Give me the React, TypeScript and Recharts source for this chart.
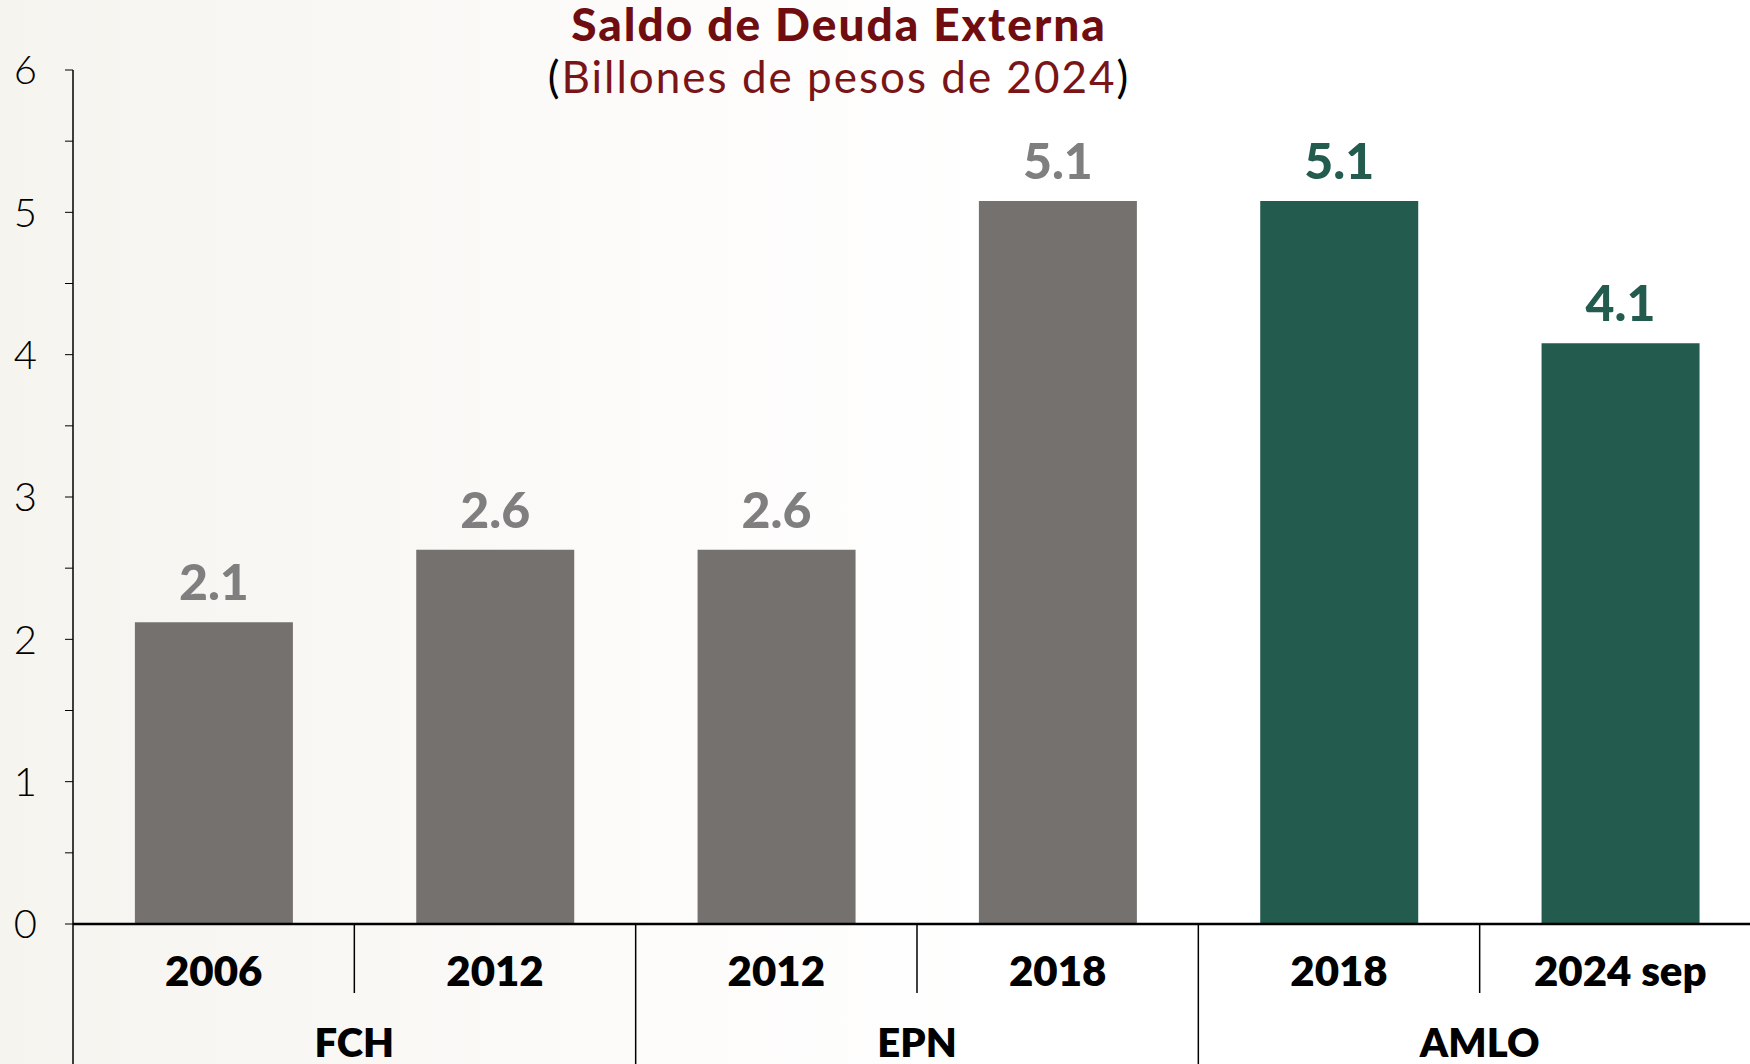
import { BarChart, Bar, XAxis, YAxis, Cell, LabelList } from "recharts";

const ANIOS = ["2006", "2012", "2012", "2018", "2018", "2024 sep"];
const GOBIERNOS = ["FCH", "FCH", "EPN", "EPN", "AMLO", "AMLO"];
const SALDO = [2.12, 2.63, 2.63, 5.08, 5.08, 4.08];
const TICKS_Y = [0, 0.5, 1, 1.5, 2, 2.5, 3, 3.5, 4, 4.5, 5, 5.5, 6];

const GRIS = "#75716f";
const VERDE = "#235b4e";
const GRIS_TEXTO = "#7f7f7f";
const GUINDA = "#6f0d10";

const COLORES = [GRIS, GRIS, GRIS, GRIS, VERDE, VERDE];
const COLORES_TEXTO = [GRIS_TEXTO, GRIS_TEXTO, GRIS_TEXTO, GRIS_TEXTO, VERDE, VERDE];

const ANCHO = 1750;
const ALTO = 1064;
const EJE_Y = 73;
const MARGEN_DER = -11;
const ALTO_EJE_X = 140;
const BANDA = (ANCHO - EJE_Y - MARGEN_DER) / ANIOS.length;

const FUENTE = "Lato, 'Noto Sans', sans-serif";

const datos = ANIOS.map((anio, i) => ({
  clave: `${GOBIERNOS[i]}-${anio}-${i}`,
  anio,
  gobierno: GOBIERNOS[i],
  saldo: SALDO[i],
}));

function TickX(props: any) {
  const { x, y, index } = props;
  const d = datos[index];
  if (!d) return null;
  const mitad = BANDA / 2;
  const siguiente = datos[index + 1];
  const cambiaGrupo = siguiente && siguiente.gobierno !== d.gobierno;
  const inicioGrupo = index === 0 || datos[index - 1].gobierno !== d.gobierno;
  let anchoGrupo = 0;
  if (inicioGrupo) {
    anchoGrupo = datos.filter((e) => e.gobierno === d.gobierno).length;
  }
  return (
    <g>
      {index === 0 && (
        <line x1={x - mitad} x2={x - mitad} y1={y} y2={y + ALTO_EJE_X} stroke="#000" strokeWidth={1.5} />
      )}
      {siguiente && (
        <line
          x1={x + mitad}
          x2={x + mitad}
          y1={y}
          y2={cambiaGrupo ? y + ALTO_EJE_X : y + 69}
          stroke="#000"
          strokeWidth={1.5}
        />
      )}
      <text
        x={x}
        y={y + 62}
        textAnchor="middle"
        fontFamily={FUENTE}
        fontWeight={800}
        fontSize={42}
        fill="#000"
      >
        {d.anio}
      </text>
      {inicioGrupo && (
        <text
          x={x - mitad + (anchoGrupo * BANDA) / 2}
          y={y + 133}
          textAnchor="middle"
          fontFamily={FUENTE}
          fontWeight={800}
          fontSize={40}
          fill="#000"
        >
          {d.gobierno}
        </text>
      )}
    </g>
  );
}

function EtiquetaValor(props: any) {
  const { x, y, width, value, index } = props;
  return (
    <text
      x={x + width / 2}
      y={y - 22}
      textAnchor="middle"
      fontFamily={FUENTE}
      fontWeight={900}
      fontSize={50}
      fill={COLORES_TEXTO[index]}
    >
      {Number(value).toFixed(1)}
    </text>
  );
}

export default function App() {
  return (
    <div
      style={{
        position: "absolute",
        left: 0,
        top: 0,
        width: ANCHO,
        height: ALTO,
        overflow: "hidden",
        background: "linear-gradient(90deg, #f6f4ef 0%, #faf8f5 22%, #fdfcfb 40%, #ffffff 60%)",
      }}
    >
      <svg width={ANCHO} height={ALTO} style={{ position: "absolute", left: 0, top: 0 }}>
        <text
          x={839}
          y={41}
          textAnchor="middle"
          fontFamily={FUENTE}
          fontWeight={900}
          fontSize={46}
          letterSpacing={2}
          fill={GUINDA}
        >
          Saldo de Deuda Externa
        </text>
        <text
          x={839}
          y={93}
          textAnchor="middle"
          fontFamily={FUENTE}
          fontWeight={400}
          fontSize={44}
          letterSpacing={2}
          fill="#7a1416"
        >
          <tspan fill="#000">(</tspan>Billones de pesos de 2024<tspan fill="#000">)</tspan>
        </text>
      </svg>
      <div style={{ position: "absolute", left: 0, top: 0 }}>
        <BarChart
          width={ANCHO}
          height={ALTO}
          data={datos}
          margin={{ top: 70, right: MARGEN_DER, bottom: 0, left: 0 }}
          barCategoryGap="22%"
        >
          <YAxis
            width={EJE_Y}
            domain={[0, 6]}
            ticks={TICKS_Y}
            interval={0}
            tickSize={8}
            tickMargin={28}
            axisLine={{ stroke: "#000", strokeWidth: 1.5 }}
            tickLine={{ stroke: "#000", strokeWidth: 1 }}
            tickFormatter={(v: number) => (Number.isInteger(v) ? String(v) : "")}
            tick={{ fontFamily: FUENTE, fontWeight: 300, fontSize: 40, fill: "#000" }}
          />
          <XAxis
            dataKey="clave"
            height={ALTO_EJE_X}
            interval={0}
            tickSize={0}
            tickMargin={0}
            tickLine={false}
            axisLine={{ stroke: "#000", strokeWidth: 2.5 }}
            tick={<TickX />}
          />
          <Bar dataKey="saldo" isAnimationActive={false}>
            {datos.map((_, i) => (
              <Cell key={i} fill={COLORES[i]} />
            ))}
            <LabelList dataKey="saldo" content={<EtiquetaValor />} />
          </Bar>
        </BarChart>
      </div>
    </div>
  );
}
